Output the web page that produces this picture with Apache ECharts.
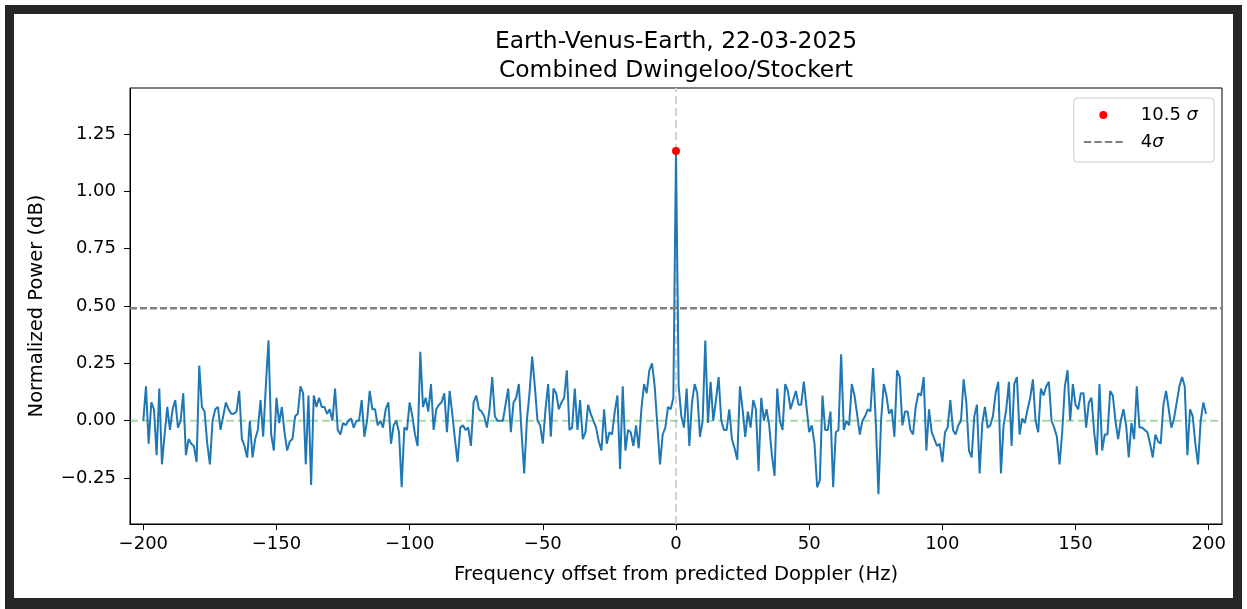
<!DOCTYPE html>
<html>
<head>
<meta charset="utf-8">
<script src="https://cdn.jsdelivr.net/npm/echarts@6/dist/echarts.min.js"></script>
<style>
html,body{margin:0;padding:0;background:#fff;}
#chart{position:absolute;left:0;top:0;width:1247px;height:609px;}
#frame{position:absolute;left:5px;top:5px;width:1237px;height:604px;box-sizing:border-box;border:9px solid #262626;border-bottom-width:11px;pointer-events:none;}
</style>
</head>
<body>
<div id="chart"></div>
<div id="frame"></div>
<script>
// Frequency grid (Hz) of the spectrum
const freqStart = -200;
const freqStep = 1;

// Normalized power (dB), one value per Hz from -200 to 199
const power = [
  0.00, 0.15, -0.10, 0.08, 0.05, -0.15, 0.14, -0.19, -0.06, 0.06,
  -0.04, 0.05, 0.09, -0.03, 0.00, 0.12, -0.15, -0.08, -0.10, -0.11,
  -0.18, 0.24, 0.06, 0.04, -0.10, -0.19, 0.00, 0.05, 0.06, -0.04,
  0.02, 0.08, 0.05, 0.03, 0.03, 0.04, 0.13, -0.08, -0.11, -0.16,
  0.00, -0.16, -0.08, -0.04, 0.09, -0.07, 0.15, 0.35,
  -0.06, -0.13, 0.10, -0.01, 0.06, -0.05, -0.13, -0.09, -0.08, 0.02,
  0.03, 0.15, 0.12, -0.19, 0.11, -0.28, 0.11, 0.06, 0.10, 0.06,
  0.06, 0.03, 0.05, 0.00, 0.14, -0.04, -0.06, -0.01, -0.02, 0.00,
  0.01, -0.03, 0.00, 0.00, 0.09, -0.07, 0.00, 0.13, 0.05, 0.05,
  -0.02, 0.00, -0.03, 0.05, 0.08, -0.10, -0.02, 0.00, -0.05, -0.29,
  -0.03, -0.04, 0.08, 0.02, -0.06, -0.11, 0.30, 0.06, 0.10, 0.04,
  0.16, -0.04, 0.05, 0.07, 0.08, 0.12, -0.05, 0.13, 0.03, -0.08,
  -0.18, -0.03, -0.02, -0.04, -0.03, -0.11, 0.08, 0.11, 0.05, 0.04,
  0.02, -0.03, 0.05, 0.19, 0.02, 0.00, 0.00, 0.00, 0.07, 0.14,
  -0.05, 0.08, 0.10, 0.16, -0.05, -0.23, 0.00, 0.12, 0.28, 0.15,
  0.00, -0.02,
  -0.10, 0.05, 0.16, -0.07, 0.14, 0.12, 0.05, 0.08, 0.10, 0.22,
  -0.04, -0.03, 0.14, -0.04, 0.09, -0.08, -0.05, 0.07, 0.03, 0.00,
  -0.03, -0.09, -0.13, 0.05, -0.10, -0.05, -0.06, 0.04, 0.11, -0.21,
  0.15, -0.13, -0.04, -0.05, -0.11, -0.02, -0.12, 0.05, 0.16, 0.12,
  0.22, 0.25, 0.15, -0.02, -0.19, -0.06, -0.03, 0.06, 0.05, 0.10,
  1.175,
  0.15, 0.02, -0.03, 0.14, -0.11, 0.08, 0.16, 0.12, -0.07, 0.00,
  0.35, -0.01, 0.17, 0.00, 0.09, 0.19, 0.00, -0.04, -0.04, 0.05,
  -0.08, -0.12, -0.17, 0.15, 0.05, -0.07, 0.04, -0.03, 0.09, 0.05,
  -0.22, 0.10, 0.00, 0.05, -0.02, -0.15, -0.24, 0.14, 0.00, -0.04,
  0.16, 0.13, 0.05, 0.09, 0.13, 0.07, 0.07, 0.17, 0.06, -0.05,
  -0.02, -0.10, -0.29, -0.26, 0.11, -0.04, -0.04, 0.04, -0.29, -0.05,
  -0.04, 0.29, -0.04, 0.00, -0.02, 0.16, 0.11, 0.03, -0.06, 0.00,
  0.02, 0.05, 0.04, 0.23, 0.00, -0.32, 0.00, 0.16, 0.11, 0.03,
  0.05, -0.07, 0.22, 0.19, -0.02, 0.04, 0.04, -0.04, -0.06, 0.06,
  0.12, 0.11, 0.19, -0.13, 0.05, -0.05, -0.08, -0.11, -0.10, -0.18,
  -0.05, -0.03, 0.09, -0.04, -0.06, -0.02, 0.00, 0.18, 0.08, -0.13,
  -0.16, 0.02, 0.07, -0.23, -0.01, 0.06, -0.03, -0.02, 0.02, 0.12,
  0.17, -0.23, -0.02, 0.05, 0.17, -0.11, 0.16, 0.19, -0.06, 0.01,
  -0.01, 0.05, 0.10, 0.18, 0.00, -0.05, 0.14, 0.11, 0.15, 0.17,
  0.00, -0.03, -0.07, -0.19, -0.05, 0.15, 0.22, 0.00, 0.16, 0.07,
  0.05, 0.12, 0.12, -0.03, 0.08, 0.10, -0.05, -0.15, 0.16, -0.13,
  -0.06, -0.06, 0.13, 0.11, 0.00, -0.08, 0.00, 0.05, -0.02, -0.16,
  -0.01, -0.08, 0.15, -0.03, -0.03, -0.04, -0.05, -0.10, -0.16, -0.06,
  -0.09, -0.10, 0.07, 0.13, 0.05, -0.03, 0.01, 0.08, 0.15, 0.19,
  0.15, -0.15, 0.05, 0.02, -0.10, -0.19, 0.00, 0.08, 0.03
];

// Detected peak
const peakFreq = [0];
const peakPower = [1.175];

// 4 sigma threshold level
const threshold4Sigma = 0.49;

// Axis limits and ticks
const xLimits = [-205, 205];
const yLimits = [-0.45, 1.45];
const xTicks = [-200, -150, -100, -50, 0, 50, 100, 150, 200];
const yTicks = [-0.25, 0.00, 0.25, 0.50, 0.75, 1.00, 1.25];

const FONT = 'DejaVu Sans';
const freqs = power.map((_, i) => freqStart + i * freqStep);
const spectrum = freqs.map((f, i) => [f, power[i]]);
const peak = peakFreq.map((f, i) => [f, peakPower[i]]);
const thresholdLine = xLimits.map(x => [x, threshold4Sigma]);
const zeroPowerLine = xLimits.map(x => [x, 0]);
const zeroFreqLine = yLimits.map(y => [0, y]);
const minusFmt = s => s.replace('-', '\u2212');

const chart = echarts.init(document.getElementById('chart'), null, {renderer: 'canvas'});
chart.setOption({
  animation: false,
  backgroundColor: '#fff',
  title: {
    text: 'Earth-Venus-Earth, 22-03-2025\nCombined Dwingeloo/Stockert',
    left: 676, top: 27, textAlign: 'center', padding: 0,
    textStyle: {fontFamily: FONT, fontSize: 23.4, fontWeight: 'normal', color: '#000', lineHeight: 29}
  },
  grid: {left: 130, right: 25, top: 88, bottom: 85, show: true, borderColor: '#000', borderWidth: 1, backgroundColor: 'transparent'},
  xAxis: {
    type: 'value', min: xLimits[0], max: xLimits[1],
    axisLine: {show: true, onZero: false, lineStyle: {color: '#000', width: 1}},
    axisTick: {show: true, length: 6, customValues: xTicks, lineStyle: {color: '#000', width: 1}},
    axisLabel: {customValues: xTicks, margin: 11, fontSize: 18, fontFamily: FONT, color: '#000',
      formatter: v => minusFmt(String(Math.round(v)))},
    splitLine: {show: false},
    name: 'Frequency offset from predicted Doppler (Hz)',
    nameLocation: 'middle', nameGap: 41,
    nameTextStyle: {fontFamily: FONT, fontSize: 19.6, color: '#000'}
  },
  yAxis: {
    type: 'value', min: yLimits[0], max: yLimits[1],
    axisLine: {show: true, onZero: false, lineStyle: {color: '#000', width: 1}},
    axisTick: {show: true, length: 6, customValues: yTicks, lineStyle: {color: '#000', width: 1}},
    axisLabel: {customValues: yTicks, margin: 14, fontSize: 18, fontFamily: FONT, color: '#000',
      formatter: v => minusFmt(v.toFixed(2))},
    splitLine: {show: false},
    name: 'Normalized Power (dB)',
    nameLocation: 'middle', nameGap: 83, nameRotate: 90,
    nameTextStyle: {fontFamily: FONT, fontSize: 19.5, color: '#000'}
  },
  legend: {
    orient: 'vertical', right: 33, top: 98,
    padding: [7, 16, 10, 10],
    itemWidth: 39, itemHeight: 8, itemGap: 7,
    backgroundColor: 'rgba(255,255,255,0.8)', borderColor: '#cccccc', borderWidth: 1, borderRadius: 3,
    symbolKeepAspect: true,
    textStyle: {fontFamily: FONT, fontSize: 18, color: '#000', lineHeight: 20, padding: [0, 0, 0, 13],
      rich: {i: {fontFamily: FONT, fontSize: 18, fontStyle: 'italic', color: '#000', lineHeight: 20}}},
    formatter: name => name === '10.5 σ' ? '10.5 {i|σ}' : '4{i|σ}',
    data: [
      {name: '10.5 σ', icon: 'circle', itemStyle: {color: '#ff0000', borderWidth: 0, opacity: 1}},
      {name: '4σ', icon: 'path://M0,0h7.5v2h-7.5z M10.7,0h7.5v2h-7.5z M21.4,0h7.5v2h-7.5z M32.1,0h7.5v2h-7.5z',
        itemStyle: {color: '#808080', borderWidth: 0, opacity: 1}}
    ]
  },
  series: [
    {
      name: 'zeroFreq', type: 'line', data: zeroFreqLine, showSymbol: false, symbol: 'none', silent: true, z: 1,
      lineStyle: {color: '#d3d3d3', type: [8, 4], width: 2}
    },
    {
      name: 'zeroPower', type: 'line', data: zeroPowerLine, showSymbol: false, symbol: 'none', silent: true, z: 1,
      lineStyle: {color: 'rgba(60,170,60,0.45)', type: [8, 4], width: 2}
    },
    {
      name: 'spectrum', type: 'line', data: spectrum, showSymbol: false, symbol: 'none', z: 2,
      lineStyle: {color: '#1f77b4', width: 2}, itemStyle: {color: '#1f77b4'}
    },
    {
      name: '4σ', type: 'line', data: thresholdLine, showSymbol: false, symbol: 'none', z: 3,
      lineStyle: {color: '#808080', width: 2.4, type: [7, 3]}, itemStyle: {color: '#808080'}
    },
    {
      name: '10.5 σ', type: 'scatter', data: peak, symbol: 'circle', symbolSize: 8, z: 4,
      itemStyle: {color: '#ff0000', opacity: 1}
    }
  ]
});
</script>
</body>
</html>
